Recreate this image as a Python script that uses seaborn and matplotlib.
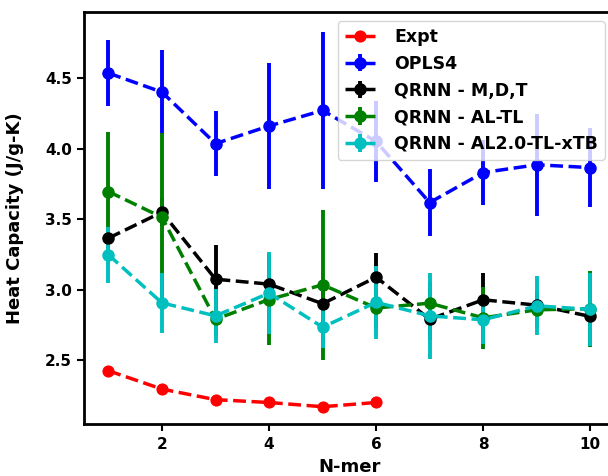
import numpy as np
import pandas as pd
import seaborn as sns
import matplotlib
matplotlib.use("Agg")
import matplotlib.pyplot as plt

# N-mer sizes
nmer = [1, 2, 3, 4, 5, 6, 7, 8, 9, 10]
expt_nmer = [1, 2, 3, 4, 5, 6]

# Experimental heat capacity (J/g-K)
expt = [2.425, 2.295, 2.22, 2.20, 2.17, 2.20]

# OPLS4 force field
opls4 = [4.535, 4.40, 4.035, 4.16, 4.27, 4.05, 3.617, 3.83, 3.885, 3.865]
opls4_err = [0.235, 0.30, 0.23, 0.445, 0.555, 0.285, 0.24, 0.23, 0.36, 0.28]

# QRNN - M,D,T
qrnn_mdt = [3.365, 3.549, 3.074, 3.039, 2.90, 3.088, 2.79, 2.928, 2.89, 2.81]
qrnn_mdt_err = [0.07, 0.10, 0.24, 0.12, 0.10, 0.17, 0.15, 0.19, 0.10, 0.10]

# QRNN - AL-TL
qrnn_altl = [3.695, 3.513, 2.79, 2.93, 3.034, 2.87, 2.904, 2.80, 2.857, 2.865]
qrnn_altl_err = [0.425, 0.60, 0.12, 0.32, 0.53, 0.15, 0.15, 0.22, 0.12, 0.27]

# QRNN - AL2.0-TL-xTB
qrnn_al2 = [3.247, 2.906, 2.814, 2.975, 2.734, 2.91, 2.814, 2.786, 2.885, 2.86]
qrnn_al2_err = [0.20, 0.215, 0.19, 0.29, 0.15, 0.26, 0.305, 0.17, 0.21, 0.26]

sns.set_style("ticks")
plt.rcParams.update({
    "font.family": ["DejaVu Sans"],
    "font.weight": "bold",
    "axes.labelweight": "bold",
    "axes.edgecolor": "black",
    "axes.linewidth": 2.0,
    "xtick.color": "black",
    "ytick.color": "black",
    "text.color": "black",
    "axes.labelcolor": "black",
    "xtick.major.width": 1.5,
    "ytick.major.width": 1.5,
    "xtick.major.size": 5,
    "ytick.major.size": 5,
})

fig = plt.figure(figsize=(6.08, 4.76), dpi=100)
ax = fig.add_axes([0.1387, 0.1082, 0.8718, 0.8672])

lw = 2.5
ms = 8

expt_df = pd.DataFrame({"N-mer": expt_nmer, "Cp": expt})
sns.lineplot(data=expt_df, x="N-mer", y="Cp", ax=ax, color="red", marker="o",
             linestyle="--", linewidth=lw, markersize=ms,
             markeredgecolor="red", label="Expt")

series = [
    ("OPLS4", opls4, opls4_err, "blue"),
    ("QRNN - M,D,T", qrnn_mdt, qrnn_mdt_err, "black"),
    ("QRNN - AL-TL", qrnn_altl, qrnn_altl_err, "green"),
    ("QRNN - AL2.0-TL-xTB", qrnn_al2, qrnn_al2_err, "c"),
]
for name, vals, errs, col in series:
    ax.errorbar(nmer, vals, yerr=errs, fmt="o--", color=col, linewidth=lw,
                elinewidth=lw + 0.3, markersize=ms, label=name)

ax.set_xlim(0.55, 10.45)
ax.set_ylim(2.044, 4.97)
ax.set_xticks([2, 4, 6, 8, 10])
ax.set_yticks([2.5, 3.0, 3.5, 4.0, 4.5])
ax.set_yticklabels(["2.5", "3.0", "3.5", "4.0", "4.5"])
ax.tick_params(labelsize=11, pad=4)
ax.set_xlabel("N-mer", fontsize=13, labelpad=4)
ax.set_ylabel("Heat Capacity (J/g-K)", fontsize=13, labelpad=15)

handles, labels = ax.get_legend_handles_labels()
ax.legend(handles, labels, loc="upper right", fontsize=12.5,
          handlelength=1.75, handletextpad=1.1, borderaxespad=0.55)

fig.savefig("out.png", dpi=100)
